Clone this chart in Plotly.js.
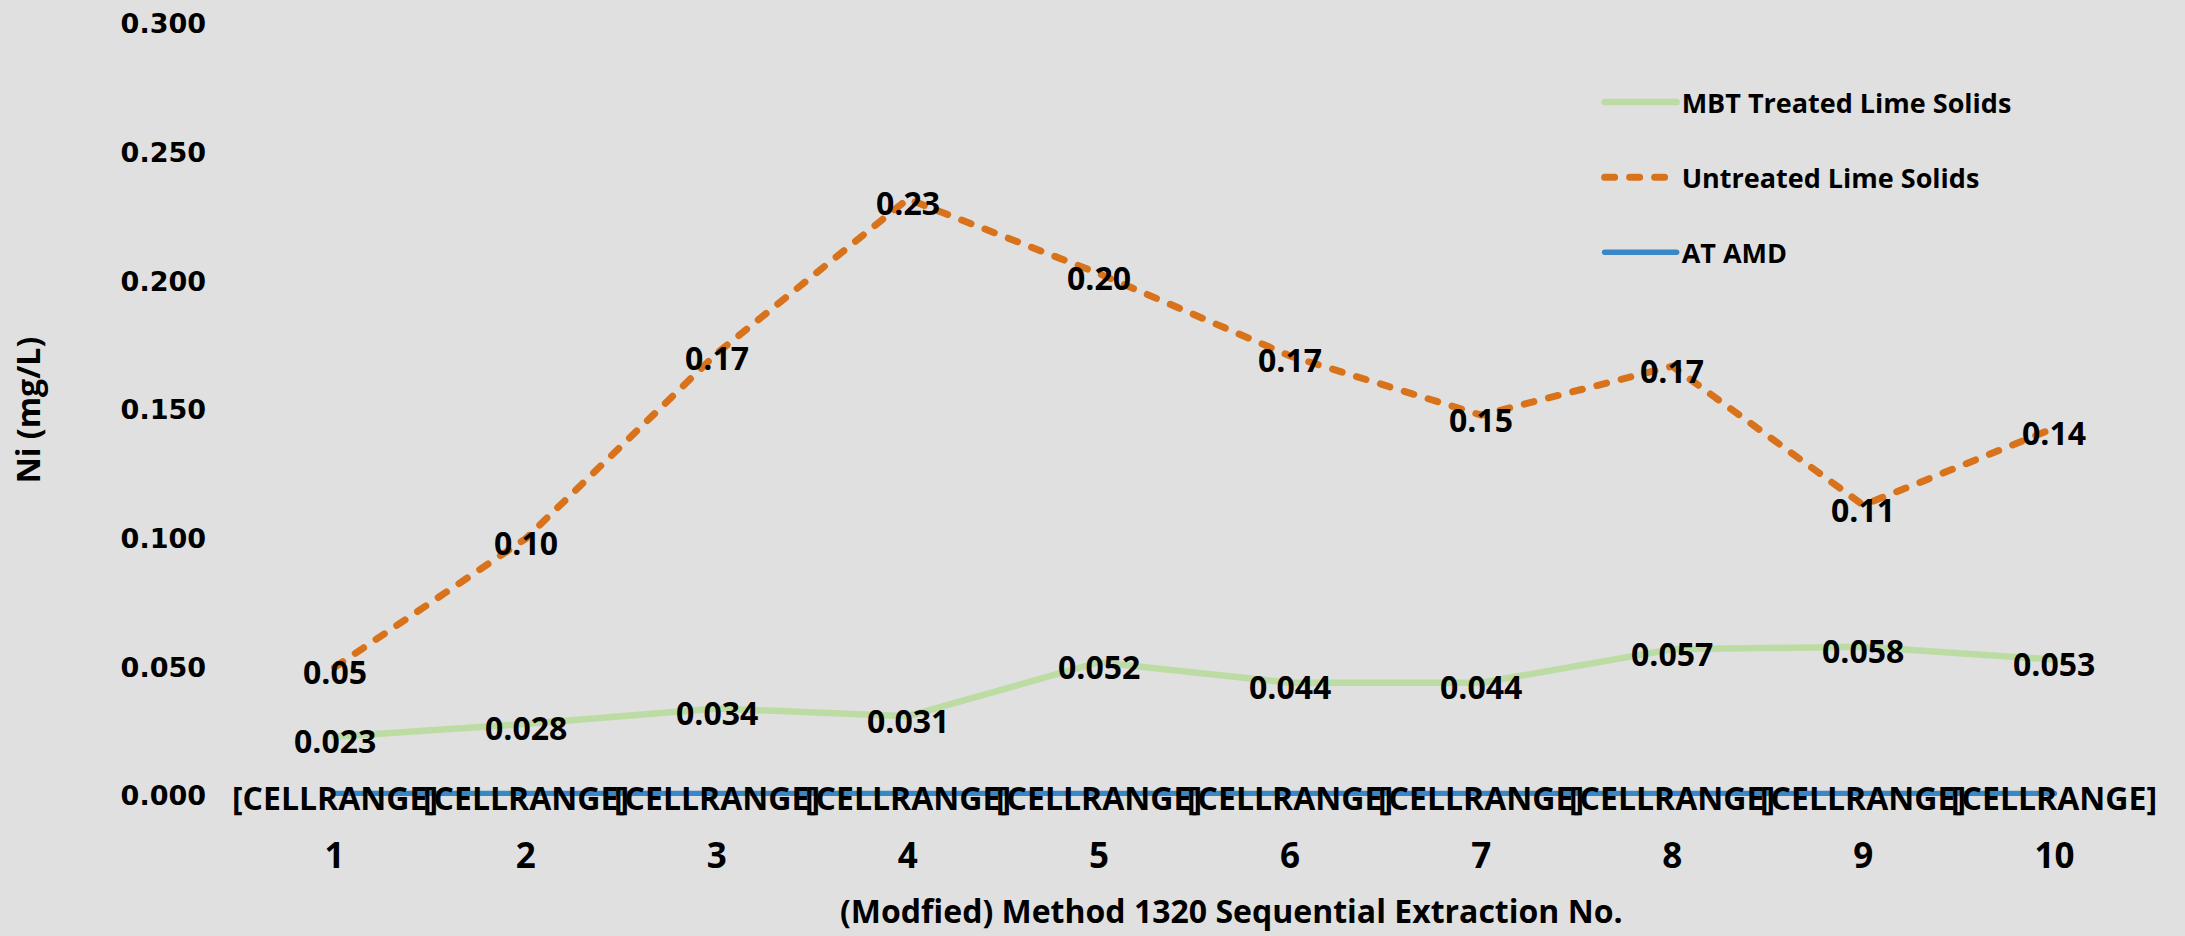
<!DOCTYPE html>
<html>
<head>
<meta charset="utf-8">
<script src="https://cdn.plot.ly/plotly-3.0.1.min.js"></script>
<style>
  html, body { margin: 0; padding: 0; background: #e0e0e0; }
  #chart { width: 2185px; height: 936px; }
  /* rounded line ends, as in the dashed series */
  .scatterlayer .js-line, .legendlines path { stroke-linecap: round; }
</style>
</head>
<body>
<div id="chart"></div>
<script>
// Sequential extraction number (category axis)
const extractionNo = ['1', '2', '3', '4', '5', '6', '7', '8', '9', '10'];

// Ni concentration, mg/L
const mbtTreated = [0.023, 0.028, 0.034, 0.031, 0.052, 0.044, 0.044, 0.057, 0.058, 0.053];
const untreated  = [0.050, 0.100, 0.172, 0.232, 0.203, 0.171, 0.148, 0.167, 0.113, 0.143];
const atAmd      = [0.001, 0.001, 0.001, 0.001, 0.001, 0.001, 0.001, 0.001, 0.001, 0.001];
const atAmdLabels = ['[CELLRANGE]', '[CELLRANGE]', '[CELLRANGE]', '[CELLRANGE]', '[CELLRANGE]',
                     '[CELLRANGE]', '[CELLRANGE]', '[CELLRANGE]', '[CELLRANGE]', '[CELLRANGE]'];

// Y axis ticks
const yTicks = [0, 0.05, 0.10, 0.15, 0.20, 0.25, 0.30];

const labelFont = { family: 'Open Sans', size: 32, color: '#000000', weight: 700 };

const traces = [
  {
    name: 'MBT Treated Lime Solids',
    legendgroup: 'mbt',
    x: extractionNo, y: mbtTreated,
    type: 'scatter', mode: 'lines',
    line: { color: '#bcdca4', width: 6.5 },
    hoverinfo: 'skip'
  },
  {
    name: 'Untreated Lime Solids',
    legendgroup: 'untreated',
    x: extractionNo, y: untreated,
    type: 'scatter', mode: 'lines',
    line: { color: '#d9731b', width: 7, dash: '10px,15px' },
    hoverinfo: 'skip'
  },
  {
    name: 'AT AMD',
    legendgroup: 'atamd',
    x: extractionNo, y: atAmd,
    type: 'scatter', mode: 'lines',
    line: { color: '#3a87c8', width: 5.5 },
    hoverinfo: 'skip'
  }
];

// Data labels, centred on each point and sitting slightly below it.
// On a category axis an annotation's x is the category's serial index.
function pointLabels(ys, texts) {
  return ys.map((y, i) => ({
    x: i, y: y, xref: 'x', yref: 'y',
    text: texts[i], showarrow: false,
    xanchor: 'center', yanchor: 'middle', yshift: -4,
    font: labelFont
  }));
}

const annotations = []
  .concat(pointLabels(mbtTreated, mbtTreated.map(v => v.toFixed(3))))
  .concat(pointLabels(untreated, untreated.map(v => v.toFixed(2))))
  .concat(pointLabels(atAmd, atAmdLabels));

// X axis title
annotations.push({
  text: '(Modfied) Method 1320 Sequential Extraction No.',
  xref: 'paper', yref: 'paper', x: 0.5196, y: 0,
  xanchor: 'center', yanchor: 'middle', yshift: -114,
  showarrow: false,
  font: { family: 'Open Sans', size: 32, color: '#000000', weight: 700 }
});

const layout = {
  width: 2185, height: 936,
  paper_bgcolor: '#e0e0e0', plot_bgcolor: '#e0e0e0',
  margin: { l: 239, r: 35, t: 24, b: 140 },
  showlegend: true,
  legend: {
    x: 0.712, y: 0.93, xanchor: 'left', yanchor: 'top',
    bgcolor: 'rgba(0,0,0,0)',
    font: { family: 'Open Sans', size: 27, color: '#000000', weight: 700 },
    itemwidth: 72, tracegroupgap: 37, traceorder: 'grouped'
  },
  xaxis: {
    type: 'category',
    range: [-0.5, extractionNo.length - 0.5],
    showgrid: false, zeroline: false, showline: false, ticks: '',
    tickfont: { family: 'Open Sans', size: 35, color: '#000000', weight: 700 },
    ticklabelstandoff: 36
  },
  yaxis: {
    range: [0, 0.3],
    tickvals: yTicks, tickformat: '.3f',
    showgrid: false, zeroline: false, showline: false, ticks: '',
    tickfont: { family: 'DejaVu Sans', size: 27, color: '#000000', weight: 700 },
    ticklabelstandoff: 32,
    title: {
      text: 'Ni (mg/L)',
      font: { family: 'Open Sans', size: 32, color: '#000000', weight: 700 },
      standoff: 70
    }
  },
  annotations: annotations
};

Plotly.newPlot('chart', traces, layout, { displayModeBar: false, staticPlot: true });
</script>
</body>
</html>
